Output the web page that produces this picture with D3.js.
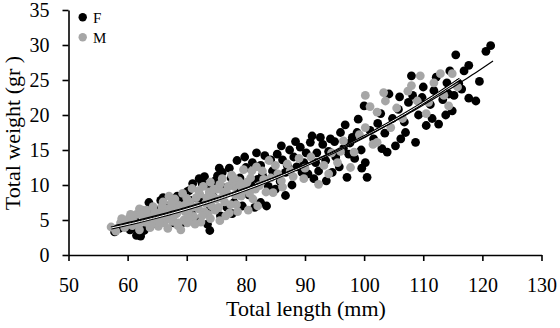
<!DOCTYPE html>
<html>
<head>
<meta charset="utf-8">
<script src="https://cdn.jsdelivr.net/npm/d3@7"></script>
<style>
  body { margin: 0; background: #fff; }
  svg text { font-family: "Liberation Serif", "Times New Roman", serif; fill: #000; }
</style>
</head>
<body>
<div id="chart"></div>
<script>
// tick labels
const xTicks = [50, 60, 70, 80, 90, 100, 110, 120, 130]
const yTicks = [0, 5, 10, 15, 20, 25, 30, 35]

// females (black)
const femaleLength = [57.8, 58.6, 59.5, 60.4, 61.1, 61.3, 61.5, 62.2, 62.8, 63.2, 63.6, 64.5, 65.0, 65.6, 66.3, 67.0, 67.8, 68.4, 69.0, 69.5,
    70.0, 70.4, 70.8, 71.5, 72.1, 72.6, 73.4, 73.5, 73.9, 74.5, 75.2, 75.7, 76.0, 76.5, 77.2, 77.7, 78.0, 78.5, 79.0, 79.4,
    80.0, 80.5, 81.1, 81.5, 82.0, 82.5, 82.5, 83.2, 83.8, 84.5, 85.3, 85.8, 86.2, 86.7, 86.7, 87.4, 88.1, 88.6, 89.2, 89.8,
    90.5, 90.9, 91.5, 92.0, 92.3, 93.0, 93.5, 94.3, 94.6, 95.2, 96.0, 96.5, 97.1, 97.6, 98.4, 98.8, 99.5, 100.0, 100.2, 100.5,
    101.0, 101.6, 102.3, 103.0, 103.9, 104.2, 104.8, 105.3, 105.8, 106.2, 106.8, 107.5, 108.0, 108.7, 109.2, 109.8, 110.5, 111.2, 111.8, 112.6,
    113.3, 114.0, 114.3, 114.5, 114.9, 115.5, 116.0, 116.5, 116.9, 117.7, 117.7, 118.9, 119.5, 120.6, 121.4,
    64.0, 66.0, 67.5, 68.8, 70.6, 71.0, 72.0, 73.0, 74.0, 74.8, 75.5, 76.8, 77.5, 78.8, 79.8, 80.8, 81.8, 82.8, 83.5, 84.2,
    85.0, 86.0, 87.0, 87.8, 88.4, 89.5, 90.2, 91.2, 91.8, 92.6, 93.6, 94.0, 95.0, 95.8, 96.8, 97.4, 98.0, 99.0, 99.6, 102.8,
    103.5, 106.0, 107.0, 108.2, 110.0, 111.5, 112.2, 113.8, 115.2]
const femaleWeight = [3.3, 3.8, 4.3, 3.6, 3.9, 4.8, 2.8, 2.7, 3.5, 5.2, 7.5, 6.6, 4.4, 7.8, 5.9, 7.0, 4.6, 8.4, 4.4, 8.0,
    9.0, 9.2, 6.2, 5.1, 10.9, 10.2, 9.9, 4.4, 3.5, 8.3, 11.3, 5.6, 11.8, 9.6, 12.4, 5.9, 7.5, 13.5, 11.0, 7.0,
    12.5, 8.6, 13.2, 6.8, 10.8, 12.8, 7.5, 14.2, 9.8, 12.0, 14.4, 10.5, 13.6, 11.8, 8.5, 15.0, 14.0, 12.6, 15.4, 13.2,
    11.6, 16.1, 10.9, 14.6, 12.0, 15.8, 13.5, 16.6, 11.8, 14.0, 17.5, 15.2, 11.1, 16.0, 13.8, 17.5, 15.0, 21.3, 13.2, 11.1,
    17.8, 16.6, 18.8, 15.2, 14.7, 23.0, 19.5, 15.6, 20.8, 16.6, 19.0, 21.8, 25.6, 16.1, 20.0, 22.5, 18.5, 21.5, 23.5, 18.7,
    22.2, 24.6, 23.0, 26.3, 20.6, 28.6, 24.5, 23.7, 26.3, 27.1, 22.4, 22.0, 24.8, 29.1, 29.9,
    5.6, 8.2, 6.0, 7.2, 7.8, 10.2, 8.0, 11.2, 6.8, 10.6, 12.4, 6.8, 11.0, 9.2, 14.0, 10.2, 14.6, 11.4, 7.0, 13.6,
    9.4, 15.6, 12.8, 10.0, 16.2, 11.8, 14.6, 17.0, 13.2, 16.8, 10.6, 14.8, 16.2, 12.6, 18.6, 14.4, 16.8, 19.4, 12.4, 20.2,
    17.4, 22.6, 17.5, 22.8, 24.0, 19.5, 25.4, 20.0, 22.8]

// males (grey)
const maleLength = [57.2, 58.0, 58.8, 59.5, 60.2, 60.8, 61.5, 62.0, 62.5, 63.0, 63.5, 63.8, 64.3, 64.8, 65.2, 65.6, 66.0, 66.4, 66.8, 67.2,
    67.6, 68.0, 68.3, 68.7, 69.0, 69.3, 69.7, 70.1, 70.5, 70.9, 71.2, 71.6, 72.0, 72.4, 72.8, 73.2, 73.6, 74.0, 74.4, 74.8,
    75.2, 75.6, 76.0, 76.4, 76.8, 77.2, 77.6, 78.0, 78.4, 78.8, 79.2, 79.6, 80.0, 80.4, 80.8, 81.2, 81.8, 82.3, 83.0, 83.9,
    84.6, 85.4, 86.2, 87.0, 88.0, 89.0, 89.8, 91.0, 92.3, 93.2, 94.5, 95.5, 96.5, 97.7, 98.3, 99.2, 100.2, 100.2, 101.0, 101.5,
    102.2, 102.2, 103.3, 103.6, 104.5, 105.5, 106.5, 107.4, 108.0, 109.0, 109.5, 110.5, 110.9, 111.8, 112.9, 113.5, 114.3, 114.9, 115.8,
    61.0, 62.8, 64.0, 65.0, 66.2, 67.0, 68.5, 69.5, 70.3, 71.8, 73.0, 74.2, 75.0, 76.2, 77.0, 78.2, 79.0, 80.2, 66.5, 68.0,
    70.0, 72.2, 73.8, 75.6, 77.8, 67.0, 60.5, 62.0,
    59.0, 60.0, 61.8, 62.3, 63.2, 64.0, 64.6, 65.4, 65.8, 66.6, 67.4, 67.8, 68.6, 69.0, 69.8, 70.4, 71.0, 71.4, 72.0, 72.6,
    73.4, 74.0, 74.6, 75.4, 76.0, 76.6, 77.4, 78.0, 78.6, 79.4, 80.6, 81.0, 81.6, 82.0, 82.8, 83.4, 84.2, 85.0, 86.0, 87.5,
    90.0, 94.0, 96.0]
const maleWeight = [4.0, 3.4, 4.6, 3.9, 5.2, 4.2, 5.8, 3.6, 6.4, 4.7, 5.6, 3.9, 6.9, 5.0, 4.1, 6.2, 7.6, 5.4, 3.8, 6.6,
    4.8, 8.0, 5.9, 7.1, 3.6, 8.8, 6.2, 4.6, 7.6, 9.5, 5.5, 8.2, 6.6, 4.7, 9.8, 7.4, 5.8, 10.4, 8.3, 6.4,
    9.4, 4.9, 10.9, 7.6, 8.8, 6.0, 11.4, 9.8, 7.2, 10.6, 8.4, 12.2, 9.4, 6.4, 11.0, 8.0, 12.6, 9.9, 10.8, 13.5,
    8.9, 11.6, 9.7, 13.0, 11.2, 13.8, 10.9, 14.0, 10.1, 12.8, 14.6, 13.2, 16.3, 12.5, 14.7, 17.2, 18.2, 22.8, 21.2, 15.8,
    20.4, 16.1, 23.2, 22.0, 18.2, 21.0, 19.5, 23.4, 24.2, 22.0, 25.6, 20.2, 21.8, 24.6, 25.9, 22.8, 21.3, 25.9, 24.0,
    4.8, 5.2, 4.4, 5.6, 4.6, 5.2, 4.2, 5.0, 5.9, 7.0, 6.2, 7.0, 8.0, 9.0, 9.8, 8.6, 10.0, 10.4, 6.6, 6.6,
    8.1, 8.7, 9.0, 10.1, 10.5, 8.4, 5.8, 6.6,
    5.2, 4.6, 4.3, 5.8, 6.4, 5.2, 6.1, 4.7, 7.0, 5.9, 7.4, 5.6, 4.6, 6.8, 7.2, 5.2, 6.8, 4.4, 9.2, 5.6,
    8.2, 5.2, 9.4, 6.8, 8.2, 5.6, 7.2, 11.0, 6.2, 9.2, 8.8, 12.0, 9.4, 7.0, 12.0, 9.0, 11.0, 12.8, 10.6, 12.0,
    12.4, 11.6, 14.8]

const series = [
    { key: 'F', color: '#000000', length: femaleLength, weight: femaleWeight },
    { key: 'M', color: '#a6a6a6', length: maleLength, weight: maleWeight }
]

// power trendline W = a * L^b, least squares on the logs
function powerFit(len, wt) {
    const lx = len.map(Math.log), ly = wt.map(Math.log)
    const mx = d3.mean(lx), my = d3.mean(ly)
    const b = d3.sum(lx, (v, i) => (v - mx) * (ly[i] - my)) / d3.sum(lx, v => (v - mx) * (v - mx))
    const a = Math.exp(my - b * mx)
    return l => a * Math.pow(l, b)
}

const svg = d3.select('#chart').append('svg')
    .attr('width', 560)
    .attr('height', 328)

const xScale = d3.scaleLinear().domain([50, 130]).range([68.5, 541.5])
const yScale = d3.scaleLinear().domain([0, 35]).range([255, 10])

// points
series.forEach(s => {
    svg.append('g')
        .selectAll('circle')
        .data(s.length.map((l, i) => ({ l: l, w: s.weight[i] })))
        .enter()
        .append('circle')
        .attr('cx', d => xScale(d.l))
        .attr('cy', d => yScale(d.w))
        .attr('r', 4.4)
        .attr('fill', s.color)
})

// trendlines
const line = d3.line().x(d => xScale(d[0])).y(d => yScale(d[1]))
series.slice().reverse().forEach(s => {
    const f = powerFit(s.length, s.weight)
    const pts = d3.range(d3.min(s.length), d3.max(s.length) + 0.5, 0.5).map(l => [l, f(l)])
    if (s.key === 'M') {
        svg.append('path').attr('d', line(pts)).attr('fill', 'none')
            .attr('stroke', '#000').attr('stroke-width', 3)
        svg.append('path').attr('d', line(pts)).attr('fill', 'none')
            .attr('stroke', '#fff').attr('stroke-width', 1)
    } else {
        svg.append('path').attr('d', line(pts)).attr('fill', 'none')
            .attr('stroke', '#000').attr('stroke-width', 1.2)
    }
})

// axes
const xAxis = d3.axisBottom(xScale).tickValues(xTicks).tickSize(6).tickSizeOuter(0)
const yAxis = d3.axisLeft(yScale).tickValues(yTicks).tickSize(6).tickSizeOuter(0)

const gx = svg.append('g')
    .attr('transform', 'translate(0, 255)')
    .call(xAxis)
const gy = svg.append('g')
    .attr('transform', 'translate(68.5, 0)')
    .call(yAxis)

;[gx, gy].forEach(g => {
    g.selectAll('path, line').attr('stroke', '#000').attr('stroke-width', 1.6)
    g.selectAll('text')
        .style('font-family', '"Liberation Serif", serif')
        .style('font-size', '20px')
        .attr('fill', '#000')
})
gx.selectAll('text').attr('dy', '0').attr('y', 37)
gy.selectAll('text').attr('x', -19).attr('dy', '0.33em')

// axis titles
svg.append('text')
    .text('Total length (mm)')
    .attr('x', 306)
    .attr('y', 316)
    .attr('text-anchor', 'middle')
    .style('font-size', '22px')

svg.append('text')
    .text('Total weight (gr )')
    .attr('transform', 'translate(20, 133) rotate(-90)')
    .attr('text-anchor', 'middle')
    .style('font-size', '22px')

// legend
series.forEach((s, i) => {
    svg.append('circle')
        .attr('cx', 82.7)
        .attr('cy', 17.3 + i * 20)
        .attr('r', 4.2)
        .attr('fill', s.color)
    svg.append('text')
        .text(s.key)
        .attr('x', 93)
        .attr('y', 23 + i * 20)
        .style('font-size', '15px')
})
</script>
</body>
</html>
